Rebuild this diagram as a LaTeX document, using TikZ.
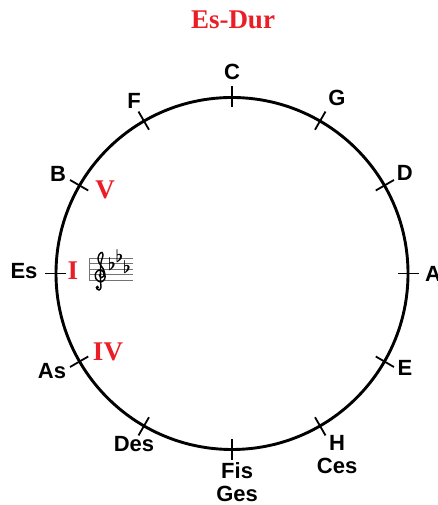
\documentclass[tikz,border=0pt]{standalone}
\usepackage{fontspec}
\setmainfont{Liberation Sans}
\newfontfamily\titlefont{Liberation Serif}
\usetikzlibrary{calc}
\definecolor{durred}{RGB}{234,30,38}

\begin{document}
\begin{tikzpicture}[x=1pt,y=1pt,
  key/.style={font=\fontsize{22}{23}\selectfont\bfseries,inner sep=0pt,align=center},
  stufe/.style={font=\titlefont\fontsize{27}{27}\selectfont\bfseries,text=durred,inner sep=0pt},
  strich/.style={line width=1.8pt},
  staffline/.style={line width=0.7pt,black!55},
  flatsign/.style={inner sep=0pt,anchor=base,font=\fontsize{18}{18}\selectfont\boldmath}]
\useasboundingbox (0,0) rectangle (438,505);
\coordinate (m) at (232,231.5);

% title
\node[stufe] (titel) at (233,485) {Es-Dur};

% circle of fifths
\draw[line width=2.9pt] (m) circle (176pt);
\foreach \a in {0,30,...,330}
  \draw[strich] ($(m)+(\a:166pt)$) -- ($(m)+(\a:187pt)$);

\foreach \a/\r/\t/\n in {90/201.5/C/c, 59.1/204.5/G/g, 30.2/200/D/d, 0/201/A/a,
    -28.6/197/E/e, -59.9/209.7/{H\\Ces}/h, -88.6/208.6/{Fis\\Ges}/fis,
    -119.9/196.7/Des/des, -151.6/204.7/As/as, 179.3/208/Es/es,
    150.2/200.4/B/b, 119.6/198.4/F/f}
  \node[key] (\n) at ($(m)+(\a:\r pt)$) {\t};

% degrees
\node[stufe] (v) at (105,315) {V};
\node[stufe] (i) at (73,234) {I};
\node[stufe] (iv) at (108,153) {IV};

% key signature
\foreach \y in {225,230.5,...,247}
  \draw[staffline] (89,\y) -- (133,\y);
\draw[staffline] (89,225) -- (89,247);
% treble clef
\draw[line width=1.4pt,line cap=round] plot[smooth,tension=0.55] coordinates {
  (101,231.5) (99.5,229.5) (101.5,227.5) (104,229.5) (103,233.5) (99,235)
  (95.5,231.5) (96,226) (100.5,223) (104.5,225.5) (105,230.5) (103,236.5)
  (99.5,241.5) (98,246.5) (99.5,251) (102,252.5) (103,249.5) (101.5,244.5)
  (100.5,238) (100.5,224) (101,217.5) (99,215) (96.5,216.5)};
\fill (97.3,217.6) circle (1.9pt);
\node[flatsign] (fb) at (112,234) {$\flat$};
\node[flatsign] (fe) at (119.5,242.3) {$\flat$};
\node[flatsign] (fa) at (127,231.3) {$\flat$};
\end{tikzpicture}
\end{document}
